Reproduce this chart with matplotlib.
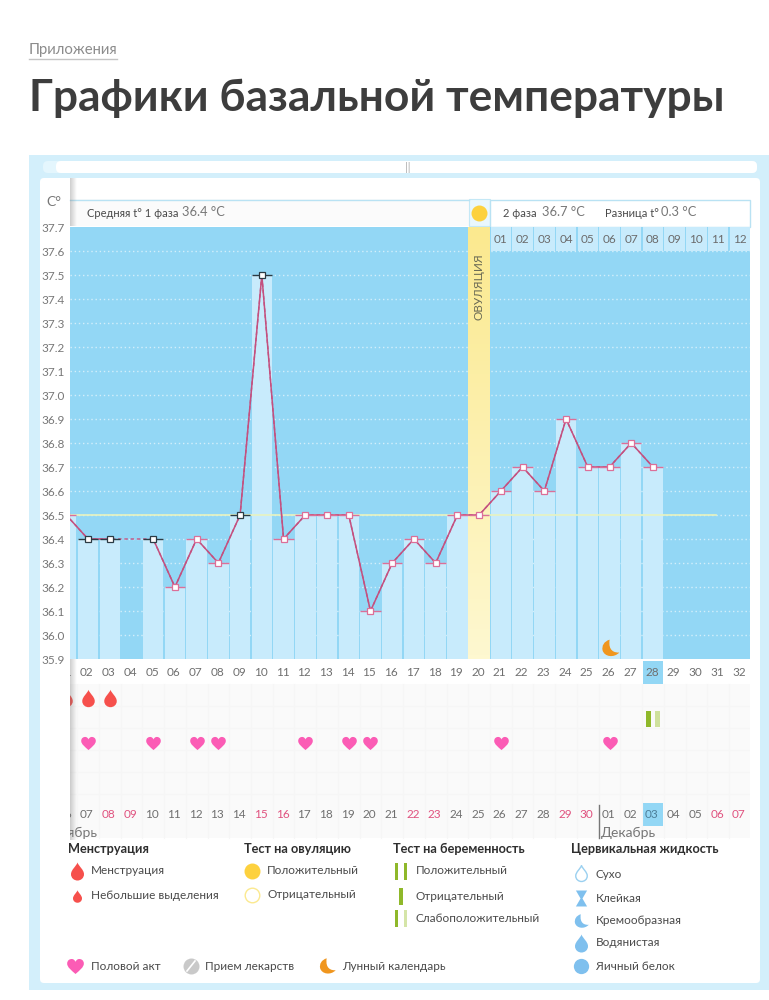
# -*- coding: utf-8 -*-
import numpy as np
import matplotlib
matplotlib.use("Agg")
import matplotlib.pyplot as plt
from matplotlib.path import Path
from matplotlib.patches import FancyBboxPatch, Rectangle

W, H = 769, 1000
plt.rcParams['font.family'] = ['Lato', 'DejaVu Sans']

# chart data
days = list(range(1, 29))
temps = [36.5, 36.4, 36.4, None, 36.4, 36.2, 36.4, 36.3, 36.5, 37.5,
         36.4, 36.5, 36.5, 36.5, 36.1, 36.3, 36.4, 36.3, 36.5, 36.5,
         36.6, 36.7, 36.6, 36.9, 36.7, 36.7, 36.8, 36.7]
black_days = [2, 3, 5, 9, 10]
ovulation_day = 20
cover_line = 36.5
cover_end = 30.9
cycle_labels = ["%02d" % d for d in range(1, 33)]
date_labels = ["06", "07", "08", "09", "10", "11", "12", "13", "14", "15", "16",
               "17", "18", "19", "20", "21", "22", "23", "24", "25", "26", "27",
               "28", "29", "30", "01", "02", "03", "04", "05", "06", "07"]
weekend_days = [3, 4, 10, 11, 17, 18, 24, 25, 31, 32]
today_day = 28
top_labels = ["01", "02", "03", "04", "05", "06", "07", "08", "09", "10", "11", "12"]
top_days = list(range(21, 33))
period_days = [1, 2, 3]
heart_days = [2, 5, 7, 8, 12, 14, 15, 21, 26]
test_days = [28]
moon_days = [26]
yticks = [round(35.9 + i * 0.1, 1) for i in range(19)]

# shapes
def bez(start, *segs):
    verts = [start]
    codes = [Path.MOVETO]
    for s in segs:
        verts += list(s)
        codes += [Path.CURVE4] * 3
    return Path(verts, codes)

DROP = bez((0, 1), [(.12, .6), (.72, .2), (.72, -.3)], [(.72, -.75), (.35, -1), (0, -1)],
           [(-.35, -1), (-.72, -.75), (-.72, -.3)], [(-.72, .2), (-.12, .6), (0, 1)])
HEART = bez((0, -.9), [(-.5, -.45), (-1, -.1), (-1, .35)], [(-1, .75), (-.7, .9), (-.45, .9)],
            [(-.2, .9), (-.05, .7), (0, .55)], [(.05, .7), (.2, .9), (.45, .9)],
            [(.7, .9), (1, .75), (1, .35)], [(1, -.1), (.5, -.45), (0, -.9)])
MOON = bez((-.1, 1), [(-.75, .8), (-1, .3), (-.9, -.2)], [(-.7, -.95), (.4, -1.1), (1, -.45)],
           [(.5, -.5), (-.3, -.3), (-.1, 1)])
HOURGLASS = Path([(-.7, 1), (.7, 1), (.12, 0), (.7, -1), (-.7, -1), (-.12, 0), (-.7, 1)])

def px_axes(fig, x0, y0, x1, y1, z):
    a = fig.add_axes([x0 / W, 1 - y1 / H, (x1 - x0) / W, (y1 - y0) / H], zorder=z)
    return a

fig = plt.figure(figsize=(W / 100, H / 100), dpi=100, facecolor="white")

# page: pixel coordinates, for the frame, title and legend
page = px_axes(fig, 0, 0, W, H, 0)
page.set_xlim(0, W)
page.set_ylim(H, 0)
page.axis("off")

TXT = "#4a4a4a"
page.text(29, 50, "Приложения", fontsize=10.7, color="#8c8c8c", va="center")
page.plot([29, 117], [58.5, 58.5], color="#c4c4c4", lw=1)
page.text(29, 98.5, "Графики базальной температуры", fontsize=31.9, weight="bold",
          color="#3d3d3d", va="center")

page.add_patch(Rectangle((29, 155), 740, 835, fc="#d3effb", ec="none"))
page.add_patch(FancyBboxPatch((43, 181), 714, 799, boxstyle="round,pad=3,rounding_size=4",
                              fc="white", ec="none"))
page.add_patch(FancyBboxPatch((44, 162), 712, 10, boxstyle="round,pad=1,rounding_size=5",
                              fc="#e4f6fd", ec="none"))
page.add_patch(FancyBboxPatch((57, 162), 699, 10, boxstyle="round,pad=1,rounding_size=5",
                              fc="white", ec="none"))
page.text(408, 167.5, "||", fontsize=8, color="#aaaaaa", ha="center", va="center")

# header strip
page.add_patch(Rectangle((70, 199), 399, 27, fc="#fbfbfb", ec="none"))
page.plot([70, 469], [199.5, 199.5], color="#b9e2f3", lw=1)
page.add_patch(Rectangle((469, 199), 21, 27, fc="#e9f7fd", ec="#c4e8f6", lw=.8))
page.add_patch(Rectangle((490, 199.5), 260, 27, fc="white", ec="#b9e2f3", lw=1))
page.plot([479], [213], "o", ms=11.5, color="#fdd13e", mec="none")
page.text(87, 213.5, "Средняя t° 1 фаза", fontsize=8, color=TXT, va="center")
page.text(182, 212.5, "36.4 °C", fontsize=9.3, color="#777777", va="center")
page.text(503, 213.5, "2 фаза", fontsize=8, color=TXT, va="center")
page.text(542, 212.5, "36.7 °C", fontsize=9.3, color="#777777", va="center")
page.text(605, 213.5, "Разница t°", fontsize=8, color=TXT, va="center")
page.text(661, 212.5, "0.3 °C", fontsize=9.3, color="#777777", va="center")
page.text(54, 202, "C°", fontsize=10, color="#777777", ha="center", va="center")

# main chart
XLIM = (1.172, 32.465)
ax = px_axes(fig, 70, 227, 750, 659, 2)
ax.set_facecolor("#93d7f5")
for s in ax.spines.values():
    s.set_visible(False)

for t in yticks[1:-1]:
    ax.axhline(t, color="white", lw=1, ls=(0, (1, 2)), alpha=.6, zorder=1)

bar_days = [d for d, t in zip(days, temps) if t is not None]
bar_vals = [t for t in temps if t is not None]
ax.bar(bar_days, np.array(bar_vals) - 35.9, bottom=35.9, width=.94, color="#c8ebfc", zorder=2)
ax.bar(top_days, [.1] * len(top_days), bottom=37.6, width=.94, color="#c8ebfc", zorder=2)
for d, lab in zip(top_days, top_labels):
    ax.text(d, 37.65, lab, fontsize=8.5, color="#6b6b6b", ha="center", va="center", zorder=6)

grad = np.linspace(0, 1, 100).reshape(-1, 1)
c0 = np.array([251, 233, 143]) / 255
c1 = np.array([254, 248, 208]) / 255
img = c0 + (c1 - c0) * grad[:, :, None]
ax.imshow(img, extent=[ovulation_day - .5, ovulation_day + .5, 35.9, 37.7], aspect="auto", zorder=3)
ax.text(ovulation_day, 37.45, "ОВУЛЯЦИЯ", rotation=90, fontsize=8.5, color="#6b6b55",
        ha="center", va="center", zorder=6)

ax.plot([XLIM[0], cover_end], [cover_line, cover_line], color="#e8f3c0", lw=1.2, zorder=4)

t_arr = np.array([np.nan if t is None else t for t in temps])
ok = ~np.isnan(t_arr)
PINK = "#c4507f"
ax.plot(np.array(days)[ok], t_arr[ok], color=PINK, lw=1, ls=(0, (2.5, 2)), zorder=5)
ax.plot(days, t_arr, color=PINK, lw=1.1, zorder=5)
for d, t in zip(days, temps):
    if t is None:
        continue
    col = "#2b3b44" if d in black_days else "#dc6f98"
    ax.plot([d - .47, d + .47], [t, t], color=col, lw=1, zorder=6, solid_capstyle="butt")
    ax.plot([d], [t], "s", ms=3.8, mfc="white", mec=col, mew=.9, zorder=7)
ax.plot(moon_days, [35.945] * len(moon_days), marker=MOON, ls="none", ms=14, color="#f0961e",
        mec="none", zorder=6)

ax.set_xlim(*XLIM)
ax.set_ylim(35.9, 37.7)
ax.set_xticks([])
ax.set_yticks(yticks)
ax.set_yticklabels(["%.1f" % t for t in yticks], fontsize=8.5, color="#777777")
ax.tick_params(axis="y", length=0, pad=4)

# lower panel: rows are pixel rows
low = px_axes(fig, 70, 659, 750, 842, 1)
low.set_xlim(*XLIM)
low.set_ylim(842, 659)
low.axis("off")
low.add_patch(Rectangle((XLIM[0], 684), XLIM[1] - XLIM[0], 154, fc="#fafafa", ec="none"))
for d in range(1, 33):
    low.plot([d + .5, d + .5], [684, 838], color="#f6f6f6", lw=.8)
for y in [706, 728, 750, 772, 794]:
    low.plot(XLIM, [y, y], color="#f6f6f6", lw=.8)

low.bar([today_day], [23], bottom=661, width=.94, color="#93d7f5")
low.bar([today_day], [23], bottom=803, width=.94, color="#93d7f5")
for i, lab in enumerate(cycle_labels):
    d = i + 1
    low.text(d - .05, 672.5, lab, fontsize=8.5, color="#6f6f6f", ha="center", va="center",
             clip_on=True)
for i, lab in enumerate(date_labels):
    d = i + 1
    col = "#e0527f" if d in weekend_days else "#6f6f6f"
    if d == today_day:
        col = "#4d7f99"
    low.text(d - .05, 815, lab, fontsize=8.5, color=col, ha="center", va="center", clip_on=True)
low.plot(period_days, [698] * len(period_days), marker=DROP, ls="none", ms=12.5, color="#f6504c",
         mec="none", clip_on=True)
low.plot(heart_days, [743] * len(heart_days), marker=HEART, ls="none", ms=10.5, color="#fb5cb5",
         mec="none")
for d in test_days:
    low.bar([d - .2], [16], bottom=711, width=.22, color="#8fb82a")
    low.bar([d + .2], [16], bottom=711, width=.22, color="#cfe19d")
low.plot([25.5, 25.5], [805, 838], color="#777777", lw=1)
low.text(2.46, 833, "Ноябрь", fontsize=10, color="#777777", ha="right", va="center", clip_on=True)
low.text(25.62, 833, "Декабрь", fontsize=10, color="#777777", ha="left", va="center")

# shadow along the left edge of the chart
shade = np.zeros((1, 32, 4))
shade[0, :, :3] = .45
shade[0, :, 3] = np.linspace(.35, 0, 32)
for y0, y1 in [(178, 226), (659, 840)]:
    sh = px_axes(fig, 70, y0, 77, y1, 3)
    sh.imshow(shade, aspect="auto")
    sh.axis("off")

# legend
HEAD = "#2f2f2f"
def head(x, y, s):
    page.text(x, y, s, fontsize=9.2, weight="bold", color=HEAD, va="center")

def item(x, y, s):
    page.text(x, y, s, fontsize=8.5, color=TXT, va="center")

head(68, 849, "Менструация")
head(244, 849, "Тест на овуляцию")
head(393, 849, "Тест на беременность")
head(571, 849, "Цервикальная жидкость")

page.plot([77], [871], marker=DROP, ms=13, color="#f6504c", mec="none")
item(91, 871, "Менструация")
page.plot([77], [895.5], marker=DROP, ms=9, color="#f6504c", mec="none")
item(91, 895.5, "Небольшие выделения")

page.plot([252], [871], "o", ms=11.5, color="#fdd13e", mec="none")
item(267, 871, "Положительный")
page.plot([252], [895], "o", ms=10.5, mfc="white", mec="#fbe98f", mew=1)
item(267, 895, "Отрицательный")

GRN = "#8fb82a"
page.bar([396.5, 405.5], [17, 17], bottom=863, width=3.2, color=GRN)
item(416, 871, "Положительный")
page.bar([401], [17], bottom=887.5, width=3.2, color=GRN)
item(416, 896, "Отрицательный")
page.bar([396.5], [17], bottom=910, width=3.2, color=GRN)
page.bar([405.5], [17], bottom=910, width=3.2, color="#d5e5a8")
item(416, 918, "Слабоположительный")

BLUE = "#7fc0ee"
page.plot([581], [873], marker=DROP, ms=11.5, mfc="white", mec="#9ad0f0", mew=1)
item(596, 874, "Сухо")
page.plot([581], [898], marker=HOURGLASS, ms=11.5, color=BLUE, mec="none")
item(596, 898, "Клейкая")
page.plot([581], [921], marker=MOON, ms=11.5, color=BLUE, mec="none")
item(596, 920.5, "Кремообразная")
page.plot([581], [943], marker=DROP, ms=13, color=BLUE, mec="none")
item(596, 943, "Водянистая")
page.plot([581], [966], "o", ms=11, color=BLUE, mec="none")
item(596, 966, "Яичный белок")

page.plot([75], [966], marker=HEART, ms=12, color="#fb5cb5", mec="none")
item(91, 966, "Половой акт")
page.plot([191], [966], "o", ms=11.5, color="#c9c9c9", mec="none")
page.plot([187, 195], [971, 961], color="white", lw=1.2)
item(205, 966, "Прием лекарств")
page.plot([327], [966], marker=MOON, ms=13, color="#f0961e", mec="none")
item(342, 966, "Лунный календарь")

fig.savefig("out.png", dpi=100, facecolor="white")
